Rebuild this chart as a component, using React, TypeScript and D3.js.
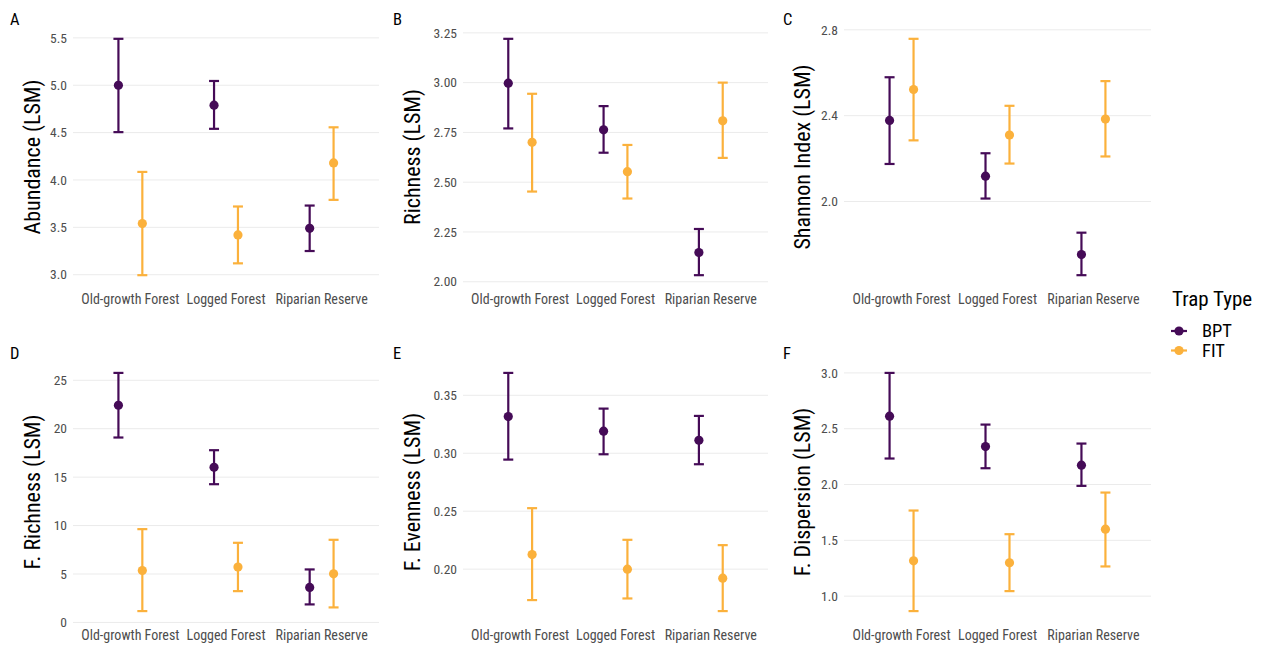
import React from "react";
import * as d3 from "d3";

// sites and trap types
const categories = ["Old-growth Forest", "Logged Forest", "Riparian Reserve"];
const trapTypes = ["BPT", "FIT"];
const trapColors = ["#450B57", "#FBB13C"];

// each row: [mean, lower, upper] per site
const abundanceBPT = [[5.0, 4.505, 5.49], [4.79, 4.54, 5.045], [3.49, 3.25, 3.73]];
const abundanceFIT = [[3.54, 2.995, 4.085], [3.42, 3.12, 3.72], [4.18, 3.79, 4.556]];
const richnessBPT = [[2.997, 2.77, 3.22], [2.763, 2.648, 2.882], [2.147, 2.033, 2.265]];
const richnessFIT = [[2.70, 2.453, 2.944], [2.553, 2.418, 2.687], [2.808, 2.622, 3.0]];
const shannonBPT = [[2.378, 2.175, 2.579], [2.118, 2.014, 2.225], [1.753, 1.657, 1.855]];
const shannonFIT = [[2.522, 2.285, 2.758], [2.31, 2.177, 2.446], [2.384, 2.21, 2.561]];
const fRichnessBPT = [[22.42, 19.09, 25.76], [16.02, 14.27, 17.78], [3.61, 1.86, 5.47]];
const fRichnessFIT = [[5.36, 1.17, 9.63], [5.71, 3.23, 8.22], [5.02, 1.55, 8.53]];
const fEvennessBPT = [[0.3316, 0.2945, 0.3693], [0.319, 0.2991, 0.3385], [0.3112, 0.2905, 0.3322]];
const fEvennessFIT = [[0.2126, 0.1733, 0.2526], [0.20, 0.1747, 0.2253], [0.1922, 0.1638, 0.2207]];
const fDispersionBPT = [[2.612, 2.233, 3.0], [2.34, 2.146, 2.537], [2.173, 1.988, 2.367]];
const fDispersionFIT = [[1.316, 0.866, 1.767], [1.299, 1.045, 1.555], [1.60, 1.266, 1.928]];

// tick values per panel
const ticksA = [3.0, 3.5, 4.0, 4.5, 5.0, 5.5];
const ticksB = [2.0, 2.25, 2.5, 2.75, 3.0, 3.25];
const ticksC = [2.0, 2.4, 2.8];
const ticksD = [0, 5, 10, 15, 20, 25];
const ticksE = [0.2, 0.25, 0.3, 0.35];
const ticksF = [1.0, 1.5, 2.0, 2.5, 3.0];

const panels = [
  { tag: "A", title: "Abundance (LSM)", series: [abundanceBPT, abundanceFIT], ticks: ticksA, fmt: ".1f", col: 0, row: 0 },
  { tag: "B", title: "Richness (LSM)", series: [richnessBPT, richnessFIT], ticks: ticksB, fmt: ".2f", col: 1, row: 0 },
  { tag: "C", title: "Shannon Index (LSM)", series: [shannonBPT, shannonFIT], ticks: ticksC, fmt: ".1f", col: 2, row: 0 },
  { tag: "D", title: "F. Richness (LSM)", series: [fRichnessBPT, fRichnessFIT], ticks: ticksD, fmt: "d", col: 0, row: 1 },
  { tag: "E", title: "F. Evenness (LSM)", series: [fEvennessBPT, fEvennessFIT], ticks: ticksE, fmt: ".2f", col: 1, row: 1 },
  { tag: "F", title: "F. Dispersion (LSM)", series: [fDispersionBPT, fDispersionFIT], ticks: ticksF, fmt: ".1f", col: 2, row: 1 },
];

const W = 1263;
const H = 646;
const colX = [
  { left: 73, right: 379, tag: 10, title: 32 },
  { left: 463, right: 768, tag: 393, title: 412 },
  { left: 844, right: 1151, tag: 783, title: 802 },
];
const rowY = [
  { top: 27, bottom: 287, tag: 25 },
  { top: 361, bottom: 623, tag: 359 },
];
const FONT = "'Roboto Condensed', 'Liberation Sans Narrow', 'Arial Narrow', Roboto, sans-serif";
const dodge = 0.125;

const Panel = ({ p }: { p: any }) => {
  const c = colX[p.col];
  const r = rowY[p.row];
  const x = d3.scaleLinear().domain([-0.6, categories.length - 0.4]).range([c.left, c.right]);
  const all = p.series.flat().flatMap((d: number[]) => [d[1], d[2]]);
  const [lo, hi] = d3.extent(all) as [number, number];
  const pad = (hi - lo) * 0.05;
  const y = d3.scaleLinear().domain([lo - pad, hi + pad]).range([r.bottom, r.top]);
  const f = d3.format(p.fmt);
  const cy = (r.top + r.bottom) / 2;
  return (
    <g>
      <text x={c.tag} y={r.tag} fontSize={16.5} fill="#000">{p.tag}</text>
      {p.ticks.map((t: number) => (
        <g key={t}>
          <line x1={c.left} x2={c.right} y1={y(t)} y2={y(t)} stroke="#ebebeb" strokeWidth={1} />
          <text x={c.left - 6} y={y(t)} dy="0.35em" textAnchor="end" fontSize={13.5} fill="#4d4d4d">{f(t)}</text>
        </g>
      ))}
      {categories.map((cat, i) => (
        <text key={cat} x={x(i)} y={r.bottom + 12} dy="0.35em" textAnchor="middle" fontSize={14} fill="#4d4d4d">{cat}</text>
      ))}
      <text transform={`translate(${c.title},${cy}) rotate(-90)`} textAnchor="middle" dy="0.35em" fontSize={22} fill="#000">{p.title}</text>
      {p.series.map((s: number[][], k: number) => (
        <g key={k} stroke={trapColors[k]} fill={trapColors[k]}>
          {s.map((d, i) => {
            const cx = x(i + (k === 0 ? -dodge : dodge));
            return (
              <g key={i}>
                <line x1={cx} x2={cx} y1={y(d[1])} y2={y(d[2])} strokeWidth={2.2} />
                <line x1={cx - 5} x2={cx + 5} y1={y(d[1])} y2={y(d[1])} strokeWidth={2.2} />
                <line x1={cx - 5} x2={cx + 5} y1={y(d[2])} y2={y(d[2])} strokeWidth={2.2} />
                <circle cx={cx} cy={y(d[0])} r={4.6} stroke="none" />
              </g>
            );
          })}
        </g>
      ))}
    </g>
  );
};

export default function App() {
  return (
    <svg width={W} height={H} style={{ display: "block", position: "absolute", left: 0, top: 0, background: "#fff" }} fontFamily={FONT}>
      {panels.map((p) => <Panel key={p.tag} p={p} />)}
      <g>
        <text x={1172} y={306} fontSize={21} fill="#000">Trap Type</text>
        {trapTypes.map((t, k) => {
          const ly = 331 + k * 19.5;
          return (
            <g key={t}>
              <line x1={1171} x2={1187} y1={ly} y2={ly} stroke={trapColors[k]} strokeWidth={2.2} />
              <circle cx={1179} cy={ly} r={4.6} fill={trapColors[k]} />
              <text x={1202} y={ly} dy="0.35em" fontSize={18.5} fill="#000">{t}</text>
            </g>
          );
        })}
      </g>
    </svg>
  );
}
